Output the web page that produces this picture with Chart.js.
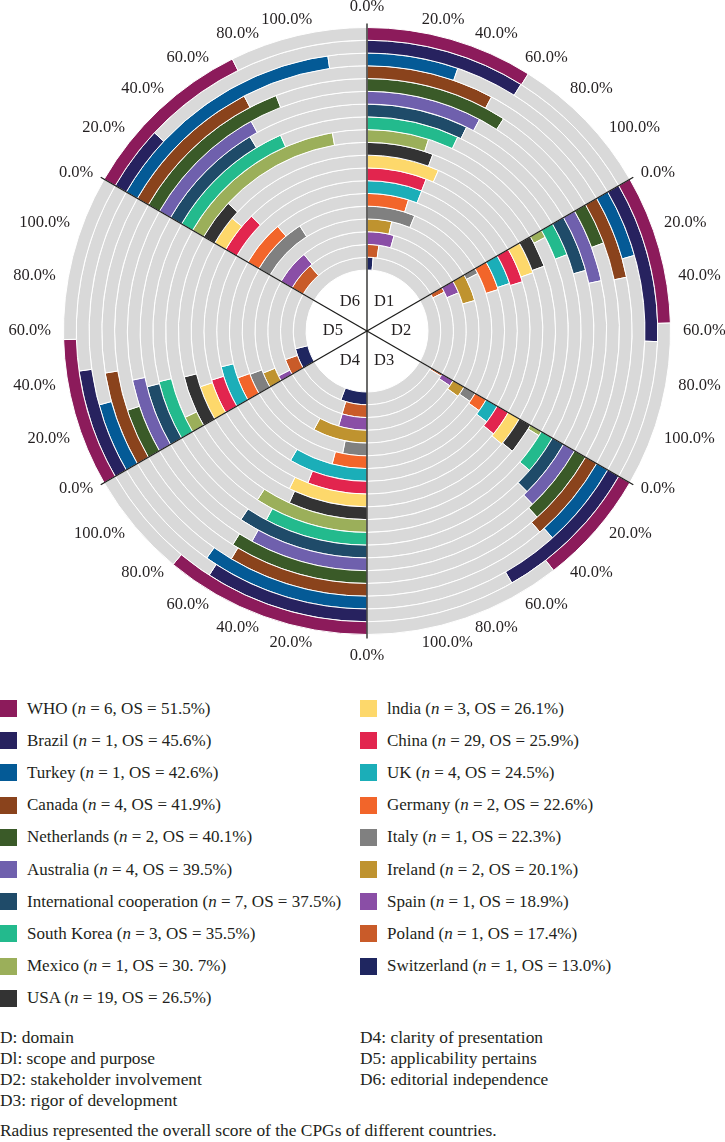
<!DOCTYPE html>
<html><head><meta charset="utf-8">
<script src="https://cdn.jsdelivr.net/npm/chart.js@4.4.1/dist/chart.umd.min.js"></script>
<style>
body{margin:0;background:#fff;width:725px;height:1142px;overflow:hidden;position:relative;font-family:"Liberation Serif","DejaVu Serif",serif;color:#231f20;}
#c{position:absolute;left:0;top:0;}
.sw{position:absolute;width:17px;height:17px;}
.lt{position:absolute;font-size:17px;line-height:20px;white-space:nowrap;}
.nt{position:absolute;font-size:17.4px;line-height:20px;white-space:nowrap;}
</style></head><body>
<canvas id="c" width="725" height="665"></canvas>
<div id="legend"></div>
<div id="notes"></div>
<script>
// ---- data ----
const countries = ['WHO','Brazil','Turkey','Canada','Netherlands','Australia','International cooperation','South Korea','Mexico','USA','lndia','China','UK','Germany','Italy','Ireland','Spain','Poland','Switzerland'];
const nValues = [6,1,1,4,2,4,7,3,1,19,3,29,4,2,1,2,1,1,1];
const osLabels = ['51.5','45.6','42.6','41.9','40.1','39.5','37.5','35.5','30. 7','26.5','26.1','25.9','24.5','22.6','22.3','20.1','18.9','17.4','13.0'];
const domains = ['D1','D2','D3','D4','D5','D6'];
const tickLabels = ['0.0%','20.0%','40.0%','60.0%','80.0%','100.0%'];
const d1Scores = [53.5,53.3,31.8,46.7,54.6,46.7,43.4,41.8,29.7,34.1,40.0,35.5,35.6,29.3,37.5,21.3,26.5,13.2,8.0];
const d2Scores = [47.5,53.5,23.7,30.5,16.0,29.8,24.2,15.2,3.8,16.5,17.8,20.7,19.3,20.8,4.3,23.7,12.3,5.5,0];
const d3Scores = [36.8,50.2,30.2,32.2,29.3,27.2,25.2,17.7,2.2,16.0,16.7,15.2,12.0,9.0,7.3,9.5,5.8,2.3,0];
const d4Scores = [66.2,54.8,58.7,51.3,53.6,47.8,56.3,46.8,55.0,40.6,43.7,35.5,51.0,24.5,18.8,47.2,27.8,28.0,34.7];
const d5Scores = [47.3,36.8,24.3,34.8,19.5,30.3,26.3,27.2,7.7,26.5,19.2,20.8,27.0,16.8,16.2,13.3,5.2,17.8,26.8];
const d6Scores = [56.1,21.7,86.5,54.0,64.8,51.8,48.2,60.3,83.5,21.0,16.5,24.7,0,32.5,45.7,0,34.3,31.5,0];
const domainNotesLeft = ['D: domain','Dl: scope and purpose','D2: stakeholder involvement','D3: rigor of development'];
const domainNotesRight = ['D4: clarity of presentation','D5: applicability pertains','D6: editorial independence'];
const caption = 'Radius represented the overall score of the CPGs of different countries.';

// ---- styles ----
const colors = ['#8c1b5b','#27225f','#045a96','#8a431c','#3a5a28','#6f60ad','#1f4b69','#23ba8d','#9baf5a','#333333','#fdd86b','#e2254e','#1baeb8','#f2652a','#808080','#bf932f','#8a4ea6','#c95b29','#1f2660'];
const gray = '#d9d9d9';
const domainScores = [d1Scores,d2Scores,d3Scores,d4Scores,d5Scores,d6Scores];

const overlay = {
  id:'overlay',
  afterDatasetsDraw(chart){
    const ctx = chart.ctx;
    const m0 = chart.getDatasetMeta(0);
    const mL = chart.getDatasetMeta(chart.data.datasets.length-1);
    const cx = m0.data[0].x, cy = m0.data[0].y;
    const outer = m0.controller.outerRadius;
    const inner = mL.controller.innerRadius;
    ctx.save();
    ctx.strokeStyle = '#1d1d1b';
    ctx.lineWidth = 1.3;
    for (let d=0; d<domains.length; d++){
      const a = m0.data[2*d].startAngle;
      ctx.beginPath();
      ctx.moveTo(cx, cy);
      ctx.lineTo(cx + (outer+4)*Math.cos(a), cy + (outer+4)*Math.sin(a));
      ctx.stroke();
    }
    ctx.fillStyle = '#231f20';
    ctx.font = '16.5px "Liberation Serif"';
    ctx.textAlign = 'center'; ctx.textBaseline = 'middle';
    for (let d=0; d<domains.length; d++){
      const a = m0.data[2*d].startAngle + Math.PI/6;
      const r = inner*0.56;
      ctx.fillText(domains[d], cx + r*Math.cos(a), cy + r*Math.sin(a));
    }
    const R = outer + 12.5;
    ctx.font = '16.5px "Liberation Serif"';
    for (let d=0; d<domains.length; d++){
      const a0 = m0.data[2*d].startAngle;
      tickLabels.forEach((t,k)=>{
        const a = a0 + k*(Math.PI*2/36);
        let deg = Math.round(((a + Math.PI/2)*180/Math.PI) % 360);
        if (deg < 0) deg += 360;
        if (deg === 0 || deg === 360){ ctx.textAlign='center'; ctx.textBaseline='bottom'; }
        else if (deg === 180){ ctx.textAlign='center'; ctx.textBaseline='top'; }
        else if (deg < 180){ ctx.textAlign='left'; ctx.textBaseline='middle'; }
        else { ctx.textAlign='right'; ctx.textBaseline='middle'; }
        ctx.fillText(t, cx + R*Math.cos(a), cy + R*Math.sin(a));
      });
    }
    ctx.restore();
  }
};

new Chart(document.getElementById('c'), {
  type:'doughnut',
  data:{
    labels: domains.flatMap(d=>[d, d+' remainder']),
    datasets: countries.map((c,i)=>({
      label:c,
      data: domainScores.flatMap(s=>[s[i], 100 - s[i]]),
      backgroundColor: domainScores.flatMap(()=>[colors[i], gray]),
      borderColor:'#ffffff', borderWidth:1, hoverBorderWidth:1, hoverOffset:0, offset:0
    }))
  },
  options:{
    responsive:false, animation:false, devicePixelRatio:1, cutout:61,
    layout:{padding:{left:63,right:54,top:27,bottom:30}},
    plugins:{legend:{display:false}, tooltip:{enabled:false}},
    events:[]
  },
  plugins:[overlay]
});

// ---- legend ----
const lg = document.getElementById('legend');
countries.forEach((c,i)=>{
  const col = i < 10 ? 0 : 1, row = i < 10 ? i : i-10;
  const x = col ? 360 : 0;
  const yc = 708.5 + row*32.2;
  const sw = document.createElement('div');
  sw.className='sw'; sw.style.left = x+'px'; sw.style.top = (yc-8.5)+'px'; sw.style.background = colors[i];
  lg.appendChild(sw);
  const t = document.createElement('div');
  t.className='lt'; t.style.left = (x+27)+'px'; t.style.top = (yc-10)+'px';
  t.innerHTML = c + ' (<i>n</i> = ' + nValues[i] + ', OS = ' + osLabels[i] + '%)';
  lg.appendChild(t);
});
const nt = document.getElementById('notes');
function addLine(txt, x, yc){
  const t = document.createElement('div');
  t.className='nt'; t.style.left = x+'px'; t.style.top=(yc-10)+'px'; t.textContent = txt; nt.appendChild(t);
}
domainNotesLeft.forEach((s,i)=>addLine(s, 0, 1037 + i*21));
domainNotesRight.forEach((s,i)=>addLine(s, 360, 1037 + i*21));
addLine(caption, 0, 1130);
</script>
</body></html>
